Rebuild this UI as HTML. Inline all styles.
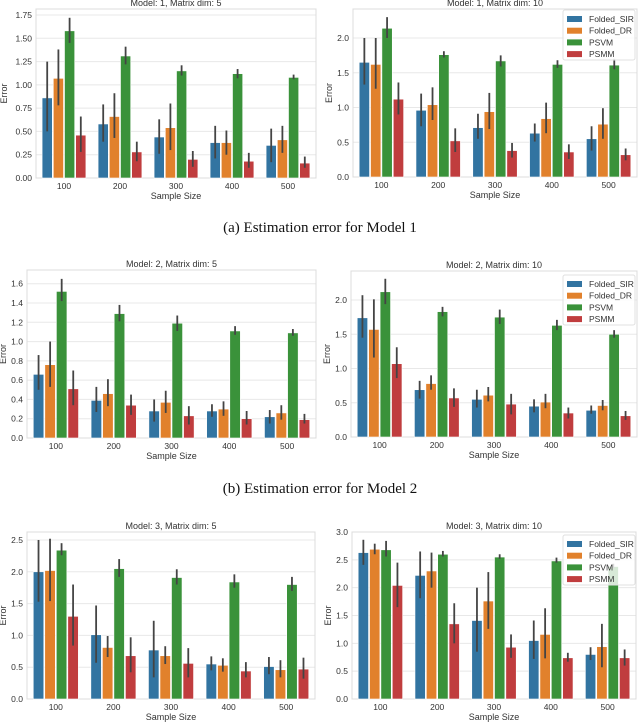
<!DOCTYPE html>
<html><head><meta charset="utf-8"><style>
html,body{margin:0;padding:0;background:#fff;width:640px;height:722px;overflow:hidden}
svg{display:block;font-family:"Liberation Sans",sans-serif}
.cap{font-family:"Liberation Serif",serif;font-size:15px;fill:#111}
</style></head><body>
<svg id="fig" width="640" height="722" viewBox="0 0 640 722" xmlns="http://www.w3.org/2000/svg">
<text class="cap" x="320" y="232" text-anchor="middle">(a)  Estimation error for Model 1</text>
<text class="cap" x="320" y="493" text-anchor="middle">(b)  Estimation error for Model 2</text>
</svg>
<script>
const categories=["100","200","300","400","500"];
const seriesNames=["Folded_SIR","Folded_DR","PSVM","PSMM"];
const colors=["#3274a1","#e1812c","#3a923a","#c03d3e"];
// panel 1: Model 1 dim 5
const p1Values=[[0.86,0.58,0.44,0.38,0.35],[1.07,0.66,0.54,0.38,0.41],[1.58,1.31,1.15,1.12,1.08],[0.46,0.28,0.20,0.18,0.16]];
const p1Lo=[[0.50,0.39,0.26,0.21,0.17],[0.78,0.43,0.30,0.25,0.27],[1.45,1.22,1.10,1.07,1.06],[0.28,0.18,0.12,0.11,0.11]];
const p1Hi=[[1.25,0.79,0.63,0.56,0.53],[1.38,0.91,0.80,0.51,0.56],[1.72,1.41,1.21,1.17,1.11],[0.66,0.39,0.29,0.27,0.23]];
const p1Ticks=[0,0.25,0.5,0.75,1.0,1.25,1.5,1.75];
// panel 2: Model 1 dim 10
const p2Values=[[1.65,0.96,0.71,0.63,0.55],[1.62,1.04,0.94,0.84,0.76],[2.14,1.76,1.67,1.62,1.61],[1.12,0.52,0.38,0.36,0.32]];
const p2Lo=[[1.33,0.73,0.55,0.51,0.38],[1.27,0.82,0.69,0.63,0.55],[2.00,1.72,1.59,1.57,1.55],[0.90,0.36,0.28,0.26,0.24]];
const p2Hi=[[2.00,1.20,0.91,0.77,0.73],[2.00,1.29,1.21,1.07,0.99],[2.30,1.81,1.75,1.68,1.70],[1.36,0.70,0.49,0.47,0.41]];
const p2Ticks=[0,0.5,1.0,1.5,2.0];
// panel 3: Model 2 dim 5
const p3Values=[[0.66,0.39,0.28,0.28,0.22],[0.76,0.46,0.37,0.30,0.26],[1.52,1.29,1.19,1.11,1.09],[0.51,0.34,0.23,0.20,0.19]];
const p3Lo=[[0.50,0.27,0.17,0.22,0.15],[0.53,0.33,0.26,0.23,0.19],[1.42,1.21,1.11,1.07,1.06],[0.34,0.24,0.14,0.14,0.15]];
const p3Hi=[[0.86,0.53,0.40,0.35,0.29],[1.00,0.61,0.49,0.38,0.34],[1.65,1.38,1.27,1.16,1.13],[0.70,0.45,0.33,0.28,0.25]];
const p3Ticks=[0,0.2,0.4,0.6,0.8,1.0,1.2,1.4,1.6];
// panel 4: Model 2 dim 10
const p4Values=[[1.74,0.69,0.55,0.45,0.39],[1.57,0.78,0.61,0.51,0.46],[2.12,1.83,1.75,1.63,1.50],[1.07,0.57,0.48,0.35,0.31]];
const p4Lo=[[1.45,0.56,0.43,0.36,0.34],[1.16,0.69,0.52,0.42,0.39],[1.94,1.76,1.65,1.56,1.45],[0.86,0.44,0.33,0.27,0.25]];
const p4Hi=[[2.07,0.82,0.69,0.55,0.46],[2.01,0.90,0.73,0.63,0.54],[2.31,1.90,1.86,1.71,1.56],[1.31,0.71,0.63,0.43,0.38]];
const p4Ticks=[0,0.5,1.0,1.5,2.0];
// panel 5: Model 3 dim 5
const p5Values=[[2.00,1.01,0.77,0.55,0.51],[2.02,0.81,0.68,0.53,0.46],[2.34,2.05,1.91,1.84,1.80],[1.30,0.68,0.56,0.44,0.47]];
const p5Lo=[[1.53,0.57,0.34,0.45,0.39],[1.54,0.66,0.55,0.43,0.34],[2.26,1.92,1.80,1.75,1.70],[0.84,0.42,0.34,0.34,0.32]];
const p5Hi=[[2.50,1.47,1.23,0.67,0.66],[2.52,0.99,0.83,0.64,0.61],[2.45,2.20,2.04,1.96,1.92],[1.80,0.97,0.80,0.58,0.65]];
const p5Ticks=[0,0.5,1.0,1.5,2.0,2.5];
// panel 6: Model 3 dim 10
const p6Values=[[2.63,2.22,1.41,1.05,0.80],[2.69,2.30,1.76,1.16,0.94],[2.68,2.60,2.55,2.48,2.38],[2.04,1.35,0.93,0.74,0.74]];
const p6Lo=[[2.41,1.81,0.85,0.72,0.70],[2.60,2.00,1.26,0.73,0.57],[2.56,2.56,2.52,2.45,2.35],[1.65,1.00,0.74,0.67,0.60]];
const p6Hi=[[2.86,2.65,2.00,1.41,0.93],[2.79,2.63,2.28,1.63,1.35],[2.84,2.66,2.60,2.54,2.43],[2.45,1.72,1.16,0.83,0.89]];
const p6Ticks=[0,0.5,1.0,1.5,2.0,2.5,3.0];

const svg=document.getElementById('fig');
const NS="http://www.w3.org/2000/svg";
function mk(tag,attrs,parent){const e=document.createElementNS(NS,tag);for(const k in attrs)e.setAttribute(k,attrs[k]);(parent||svg).appendChild(e);return e;}

function panel(id,title,box,yTop,yBottom,vMax,ticks,dec,vals,lo,hi,legend){
  const g=mk('g',{});
  
  
  const [l,r,t,b]=box;
  const ys=v=>yBottom-(v/vMax)*(yBottom-yTop);
  const gw=(r-l)/5;
  const xc=i=>l+(i+0.5)*gw;
  const bw=gw*0.8/4;
  // grid
  ticks.forEach(tv=>{
    const y=ys(tv);
    const gl=mk('line',{x1:l,x2:r,y1:y,y2:y,stroke:'#e8e8e8','stroke-width':1},g);
    
    
    const tl=mk('text',{x:l-4,y:y+3,'text-anchor':'end','font-size':'8.5',fill:'#333'},g);
    tl.textContent=tv.toFixed(dec);
    
    
  });
  const fr=mk('rect',{x:l,y:t,width:r-l,height:b-t,fill:'none',stroke:'#dcdcdc','stroke-width':1},g);
  
  
  // bars
  for(let s=0;s<4;s++){
    for(let i=0;i<5;i++){
      const x=xc(i)-2*bw+s*bw;
      const y=ys(vals[s][i]);
      const rc=mk('rect',{x:x+0.5,y:y,width:bw-1,height:yBottom-y,fill:colors[s],stroke:'#fff','stroke-width':0.6},g);
      
      
      const el=mk('line',{x1:x+bw/2,x2:x+bw/2,y1:ys(lo[s][i]),y2:ys(hi[s][i]),stroke:'#444','stroke-width':1.8},g);
      
      
    }
  }
  categories.forEach((c,i)=>{
    const tx=mk('text',{x:xc(i),y:b+11,'text-anchor':'middle','font-size':'8.5',fill:'#333'},g);
    tx.textContent=c;
    
    
  });
  const xt=mk('text',{x:(l+r)/2,y:b+21,'text-anchor':'middle','font-size':'9',fill:'#333'},g);
  xt.textContent='Sample Size';
  
  
  const yx=l-(dec===2?29:21);
  const yt=mk('text',{x:yx,y:(t+b)/2,'text-anchor':'middle','font-size':'9',fill:'#333',transform:`rotate(-90 ${yx} ${(t+b)/2})`},g);
  yt.textContent='Error';
  
  
  const tt=mk('text',{x:(l+r)/2,y:t-3,'text-anchor':'middle','font-size':'9',fill:'#333'},g);
  tt.textContent=title;
  
  
  if(legend){
    const [lx,ly]=legend;
    const lg=mk('g',{},g);
    
    
    mk('rect',{x:lx,y:ly,width:72,height:50,rx:2,fill:'#fff','fill-opacity':0.8,stroke:'#e0e0e0'},lg);
    seriesNames.forEach((n,s)=>{
      const ry=ly+9+s*11.7;
      const sw=mk('rect',{x:lx+4,y:ry-3,width:15,height:6,fill:colors[s]},lg);
      
      
      const lt=mk('text',{x:lx+26,y:ry+3,'font-size':'8.5',fill:'#333'},lg);
      lt.textContent=n;
      
      
    });
  }
}
panel('panel-model1-dim5','Model: 1, Matrix dim: 5',[36,316,9,178],15,178,1.75,p1Ticks,2,p1Values,p1Lo,p1Hi,null);
panel('panel-model1-dim10','Model: 1, Matrix dim: 10',[353,637,9,177],38,177,2.0,p2Ticks,1,p2Values,p2Lo,p2Hi,[563,10]);
panel('panel-model2-dim5','Model: 2, Matrix dim: 5',[27,316,270,438],283.7,438,1.6,p3Ticks,1,p3Values,p3Lo,p3Hi,null);
panel('panel-model2-dim10','Model: 2, Matrix dim: 10',[351,637,271,437],300,437,2.0,p4Ticks,1,p4Values,p4Lo,p4Hi,[563,275]);
panel('panel-model3-dim5','Model: 3, Matrix dim: 5',[27,315,532,699],540,699,2.5,p5Ticks,1,p5Values,p5Lo,p5Hi,null);
panel('panel-model3-dim10','Model: 3, Matrix dim: 10',[352,636,532,699],532,699,3.0,p6Ticks,1,p6Values,p6Lo,p6Hi,[563,535]);
</script>
</body></html>
